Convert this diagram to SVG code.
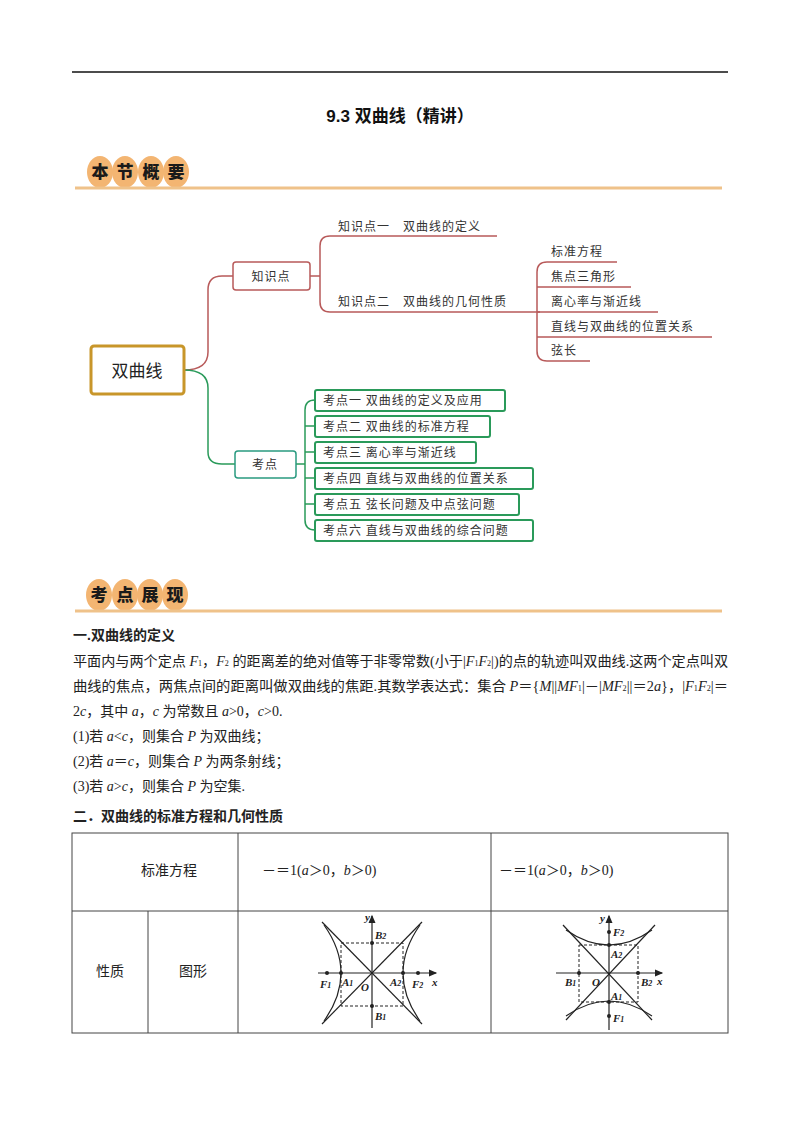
<svg xmlns="http://www.w3.org/2000/svg" width="800" height="1132" viewBox="0 0 800 1132">
<style>
.t{font-family:"Liberation Serif","Noto Sans CJK SC",serif;font-size:14px;fill:#222}
.b{font-weight:bold;font-family:"Liberation Sans","Noto Sans CJK SC",sans-serif}
.m{font-family:"Noto Sans CJK SC",sans-serif;font-size:12px;fill:#333;letter-spacing:1px}
.i{font-style:italic}
.ban{fill:#f3b572}
.bt{font-family:"Noto Sans CJK SC",sans-serif;font-weight:900;font-size:17px;fill:#1a1a1a}
.red{fill:none;stroke:#b85a5a;stroke-width:1.5}
.grn{fill:none;stroke:#2a9a5a;stroke-width:1.5}
.box{fill:#fff;stroke:#2a9a5a;stroke-width:2}
.ax{stroke:#222;stroke-width:1.2;fill:none}
.ds{stroke:#222;stroke-width:1;stroke-dasharray:3,2;fill:none}
.fl{font-family:"Liberation Serif",serif;font-size:11px;font-weight:bold;font-style:italic;fill:#222}
.sub{font-size:8px}
</style>
<defs>
<marker id="ar" markerWidth="8" markerHeight="8" refX="6" refY="3" orient="auto"><path d="M0,0 L7,3 L0,6 Z" fill="#222"/></marker>
</defs>
<line x1="72" y1="72" x2="728" y2="72" stroke="#111" stroke-width="1.5"/>
<text x="400" y="122" text-anchor="middle" class="b" font-size="17" fill="#111">9.3 双曲线（精讲）</text>

<g id="banner1">
<ellipse class="ban" cx="100" cy="172" rx="13" ry="16"/><ellipse class="ban" cx="125" cy="172" rx="13" ry="16"/><ellipse class="ban" cx="151" cy="172" rx="13" ry="16"/><ellipse class="ban" cx="176" cy="172" rx="13" ry="16"/>
<line x1="75" y1="188" x2="722" y2="188" stroke="#efc28a" stroke-width="3"/>
<text class="bt" x="100" y="178" text-anchor="middle">本</text><text class="bt" x="125" y="178" text-anchor="middle">节</text><text class="bt" x="151" y="178" text-anchor="middle">概</text><text class="bt" x="176" y="178" text-anchor="middle">要</text>
</g>

<g id="connectors">
<path class="red" d="M184,370 Q208,370 208,352 L208,290 Q208,276 222,276 L233,276" stroke-width="3"/>
<path class="grn" d="M184,370 Q208,370 208,388 L208,452 Q208,464 222,464 L235,464" stroke-width="3" stroke="#2a9a80"/>
<path class="red" d="M310,276 L320,276 M330,236 Q320,236 320,246 L320,302 Q320,312 330,312 M330,236 L497,236 M330,312 L540,312"/>
<path class="red" d="M547,262 Q537,262 537,272 L537,351 Q537,361 547,361 M547,262 L617,262 M537,287 L631,287 M537,312 L658,312 M537,337 L712,337 M547,361 L590,361"/>
<path class="grn" d="M296,464 L305,464 M315,400 Q305,400 305,410 L305,520 Q305,530 315,530 M305,426 L315,426 M305,452 L315,452 M305,478 L315,478 M305,504 L315,504"/>
</g>

<g id="root"><rect x="91" y="346" width="93" height="48" rx="3" fill="#fff" stroke="#c8962a" stroke-width="3"/><text x="137" y="377" text-anchor="middle" font-family="Noto Sans CJK SC,sans-serif" font-size="17" fill="#222">双曲线</text></g>
<g id="zsd"><rect x="233" y="262" width="77" height="28" rx="3" fill="#fff" stroke="#b85a5a" stroke-width="1.5"/><text class="m" x="271" y="281" text-anchor="middle">知识点</text></g>
<g id="zsd1"><text class="m" x="338" y="231">知识点一　双曲线的定义</text></g>
<g id="zsd2"><text class="m" x="338" y="306">知识点二　双曲线的几何性质</text></g>
<g id="leaves" class="m">
<text class="m" x="551" y="256">标准方程</text>
<text class="m" x="551" y="281">焦点三角形</text>
<text class="m" x="551" y="306">离心率与渐近线</text>
<text class="m" x="551" y="331">直线与双曲线的位置关系</text>
<text class="m" x="551" y="355">弦长</text>
</g>
<g id="kd"><rect x="235" y="451" width="61" height="27" rx="3" fill="#fff" stroke="#2a9a80" stroke-width="1.5"/><text class="m" x="265" y="469" text-anchor="middle">考点</text></g>
<g id="kd1"><rect class="box" x="315" y="390" width="190" height="21" rx="2"/><text class="m" x="323" y="405">考点一 双曲线的定义及应用</text></g>
<g id="kd2"><rect class="box" x="315" y="416" width="175" height="21" rx="2"/><text class="m" x="323" y="431">考点二 双曲线的标准方程</text></g>
<g id="kd3"><rect class="box" x="315" y="442" width="161" height="21" rx="2"/><text class="m" x="323" y="457">考点三 离心率与渐近线</text></g>
<g id="kd4"><rect class="box" x="315" y="468" width="218" height="21" rx="2"/><text class="m" x="323" y="483">考点四 直线与双曲线的位置关系</text></g>
<g id="kd5"><rect class="box" x="315" y="494" width="204" height="21" rx="2"/><text class="m" x="323" y="509">考点五 弦长问题及中点弦问题</text></g>
<g id="kd6"><rect class="box" x="315" y="520" width="218" height="21" rx="2"/><text class="m" x="323" y="535">考点六 直线与双曲线的综合问题</text></g>

<g id="banner2">
<ellipse class="ban" cx="99" cy="595" rx="13" ry="16"/><ellipse class="ban" cx="125" cy="595" rx="13" ry="16"/><ellipse class="ban" cx="150" cy="595" rx="13" ry="16"/><ellipse class="ban" cx="175" cy="595" rx="13" ry="16"/>
<line x1="75" y1="611" x2="722" y2="611" stroke="#efc28a" stroke-width="3"/>
<text class="bt" x="99" y="601" text-anchor="middle">考</text><text class="bt" x="125" y="601" text-anchor="middle">点</text><text class="bt" x="150" y="601" text-anchor="middle">展</text><text class="bt" x="175" y="601" text-anchor="middle">现</text>
</g>

<g id="text">
<text class="t b" x="73" y="640">一.双曲线的定义</text>
<text class="t" x="73" y="666" textLength="655" lengthAdjust="spacingAndGlyphs">平面内与两个定点 <tspan class="i">F</tspan><tspan class="sub">1</tspan>，<tspan class="i">F</tspan><tspan class="sub">2</tspan> 的距离差的绝对值等于非零常数(小于|<tspan class="i">F</tspan><tspan class="sub">1</tspan><tspan class="i">F</tspan><tspan class="sub">2</tspan>|)的点的轨迹叫双曲线.这两个定点叫双</text>
<text class="t" x="73" y="691" textLength="655" lengthAdjust="spacingAndGlyphs">曲线的焦点，两焦点间的距离叫做双曲线的焦距.其数学表达式：集合 <tspan class="i">P</tspan>＝{<tspan class="i">M</tspan>||<tspan class="i">MF</tspan><tspan class="sub">1</tspan>|－|<tspan class="i">MF</tspan><tspan class="sub">2</tspan>||＝2<tspan class="i">a</tspan>}，|<tspan class="i">F</tspan><tspan class="sub">1</tspan><tspan class="i">F</tspan><tspan class="sub">2</tspan>|＝</text>
<text class="t" x="73" y="716">2<tspan class="i">c</tspan>，其中 <tspan class="i">a</tspan>，<tspan class="i">c</tspan> 为常数且 <tspan class="i">a</tspan>&gt;0，<tspan class="i">c</tspan>&gt;0.</text>
<text class="t" x="73" y="741">(1)若 <tspan class="i">a</tspan>&lt;<tspan class="i">c</tspan>，则集合 <tspan class="i">P</tspan> 为双曲线；</text>
<text class="t" x="73" y="766">(2)若 <tspan class="i">a</tspan>＝<tspan class="i">c</tspan>，则集合 <tspan class="i">P</tspan> 为两条射线；</text>
<text class="t" x="73" y="791">(3)若 <tspan class="i">a</tspan>&gt;<tspan class="i">c</tspan>，则集合 <tspan class="i">P</tspan> 为空集.</text>
<text class="t b" x="73" y="821">二．双曲线的标准方程和几何性质</text>
</g>

<g id="table" stroke="#444" stroke-width="1" fill="none">
<rect x="72" y="833" width="656" height="200"/>
<line x1="72" y1="911" x2="728" y2="911"/>
<line x1="238" y1="833" x2="238" y2="1033"/>
<line x1="491" y1="833" x2="491" y2="1033"/>
<line x1="148" y1="911" x2="148" y2="1033"/>
</g>
<g id="cells">
<text class="t" x="169" y="875" text-anchor="middle">标准方程</text>
<text class="t" x="262" y="875">－＝1(<tspan class="i">a</tspan>＞0，<tspan class="i">b</tspan>＞0)</text>
<text class="t" x="499" y="875">－＝1(<tspan class="i">a</tspan>＞0，<tspan class="i">b</tspan>＞0)</text>
<text class="t" x="110" y="976" text-anchor="middle">性质</text>
<text class="t" x="193" y="976" text-anchor="middle">图形</text>
</g>

<g id="fig1">
<line class="ax" x1="318" y1="973" x2="436" y2="973" marker-end="url(#ar)"/>
<line class="ax" x1="372" y1="1028" x2="372" y2="916" marker-end="url(#ar)"/>
<rect class="ds" x="341" y="943" width="62" height="63"/>
<line class="ax" x1="322" y1="922" x2="422" y2="1024" stroke-width="1"/>
<line class="ax" x1="422" y1="922" x2="322" y2="1024" stroke-width="1"/>
<path class="ax" d="M324,925 Q358,973 324,1021 M420,925 Q386,973 420,1021"/>
<g fill="#222"><circle cx="327" cy="973" r="2"/><circle cx="341" cy="973" r="2"/><circle cx="403" cy="973" r="2"/><circle cx="418" cy="973" r="2"/><circle cx="372" cy="943" r="2"/><circle cx="372" cy="1006" r="2"/></g>
<text class="fl" x="365" y="921">y</text><text class="fl" x="432" y="986" font-size="9">x</text>
<text class="fl" x="375" y="939">B<tspan class="sub">2</tspan></text><text class="fl" x="375" y="1020">B<tspan class="sub">1</tspan></text>
<text class="fl" x="320" y="988">F<tspan class="sub">1</tspan></text><text class="fl" x="412" y="988">F<tspan class="sub">2</tspan></text>
<text class="fl" x="342" y="986">A<tspan class="sub">1</tspan></text><text class="fl" x="390" y="986">A<tspan class="sub">2</tspan></text>
<text class="fl" x="361" y="991">O</text>
</g>

<g id="fig2">
<line class="ax" x1="556" y1="973" x2="662" y2="973" marker-end="url(#ar)"/>
<line class="ax" x1="609" y1="1030" x2="609" y2="916" marker-end="url(#ar)"/>
<rect class="ds" x="579" y="945" width="59" height="57"/>
<line class="ax" x1="563" y1="925" x2="652" y2="1020" stroke-width="1"/>
<line class="ax" x1="655" y1="925" x2="566" y2="1020" stroke-width="1"/>
<path class="ax" d="M566,930 Q609,960 652,930 M566,1016 Q609,986 652,1016"/>
<g fill="#222"><circle cx="609" cy="932" r="2"/><circle cx="609" cy="945" r="2"/><circle cx="609" cy="1002" r="2"/><circle cx="609" cy="1016" r="2"/><circle cx="579" cy="973" r="2"/><circle cx="638" cy="973" r="2"/></g>
<text class="fl" x="600" y="922">y</text><text class="fl" x="657" y="985" font-size="9">x</text>
<text class="fl" x="613" y="936">F<tspan class="sub">2</tspan></text><text class="fl" x="613" y="1022">F<tspan class="sub">1</tspan></text>
<text class="fl" x="611" y="958">A<tspan class="sub">2</tspan></text><text class="fl" x="611" y="1000">A<tspan class="sub">1</tspan></text>
<text class="fl" x="565" y="986">B<tspan class="sub">1</tspan></text><text class="fl" x="641" y="986">B<tspan class="sub">2</tspan></text>
<text class="fl" x="592" y="986">O</text>
</g>
</svg>
